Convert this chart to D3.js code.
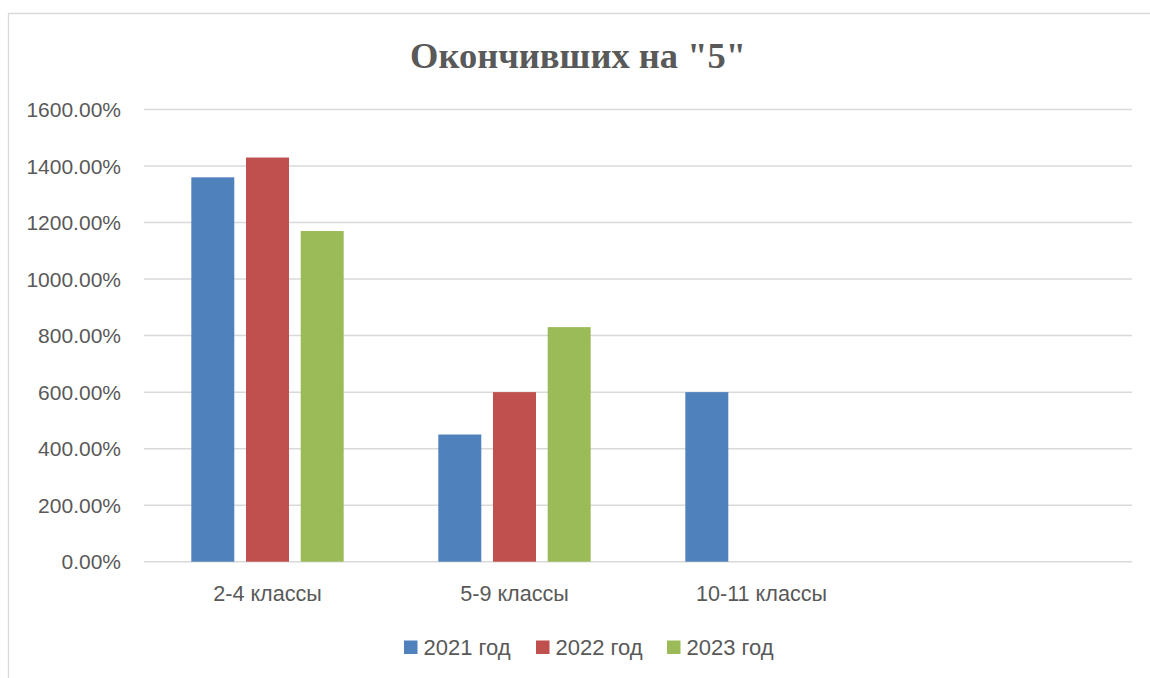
<!DOCTYPE html>
<html>
<head>
<meta charset="utf-8">
<script src="https://cdn.jsdelivr.net/npm/d3@7"></script>
<style>
  html, body { margin: 0; padding: 0; background: #fff; }
  svg { display: block; }
</style>
</head>
<body>
<svg id="chart" width="1150" height="678"></svg>
<script>
const categories = ["2-4 классы", "5-9 классы", "10-11 классы", ""];
const seriesNames = ["2021 год", "2022 год", "2023 год"];
const values2021 = [1360, 450, 600, null];
const values2022 = [1430, 600, null, null];
const values2023 = [1170, 830, null, null];
const yTicks = [0, 200, 400, 600, 800, 1000, 1200, 1400, 1600];
const colors = ["#4F81BD", "#C0504D", "#9BBB59"];
const titleText = 'Окончивших на "5"';

const seriesValues = [values2021, values2022, values2023];
const svg = d3.select("#chart");
const textColor = "#595959";
const gridColor = "#d9d9d9";
const font = "'Liberation Sans', Arial, sans-serif";

// chart frame
svg.append("path")
  .attr("d", "M8.5,678 L8.5,13.5 L1150,13.5")
  .attr("fill", "none").attr("stroke", gridColor).attr("stroke-width", 1.3);

const x = d3.scaleBand().domain(categories).range([144, 1132]).paddingInner(0).paddingOuter(0);
const xi = d3.scaleBand().domain(seriesNames).range([0, x.bandwidth()]).paddingInner(0.214).paddingOuter(0.865);
const y = d3.scaleLinear().domain([0, 1600]).range([561.7, 109.5]);

// gridlines
svg.append("g").selectAll("line").data(yTicks).join("line")
  .attr("x1", 144).attr("x2", 1132)
  .attr("y1", d => y(d)).attr("y2", d => y(d))
  .attr("stroke", gridColor).attr("stroke-width", 1.5);

// y tick labels
svg.append("g").selectAll("text").data(yTicks).join("text")
  .attr("x", 121).attr("y", d => y(d) + 7.6)
  .attr("text-anchor", "end")
  .attr("font-family", font).attr("font-size", 21).attr("fill", textColor)
  .text(d => d.toFixed(2) + "%");

// bars
const barData = [];
seriesValues.forEach((vals, si) => {
  vals.forEach((v, ci) => {
    if (v !== null && v !== undefined) barData.push({ cat: categories[ci], series: seriesNames[si], v, si });
  });
});
svg.append("g").selectAll("rect").data(barData).join("rect")
  .attr("x", d => x(d.cat) + xi(d.series))
  .attr("width", xi.bandwidth())
  .attr("y", d => y(d.v))
  .attr("height", d => y(0) - y(d.v))
  .attr("fill", d => colors[d.si]);

// category labels
svg.append("g").selectAll("text").data(categories.filter(c => c)).join("text")
  .attr("x", d => x(d) + x.bandwidth() / 2).attr("y", 600.5)
  .attr("text-anchor", "middle")
  .attr("font-family", font).attr("font-size", 21.6).attr("fill", textColor)
  .text(d => d);

// title
svg.append("text")
  .attr("x", 578).attr("y", 68)
  .attr("text-anchor", "middle")
  .attr("font-family", "'Liberation Serif', 'Times New Roman', serif")
  .attr("font-weight", "bold").attr("font-size", 36.5).attr("fill", textColor)
  .text(titleText);

// legend
const legendX = [404, 536, 667];
const lg = svg.append("g").selectAll("g").data(seriesNames).join("g")
  .attr("transform", (d, i) => `translate(${legendX[i]},0)`);
lg.append("rect").attr("x", 0).attr("y", 640.5).attr("width", 13.5).attr("height", 13.5)
  .attr("fill", (d, i) => colors[i]);
lg.append("text").attr("x", 19.5).attr("y", 654.5)
  .attr("font-family", font).attr("font-size", 22).attr("fill", textColor)
  .text(d => d);
</script>
</body>
</html>
